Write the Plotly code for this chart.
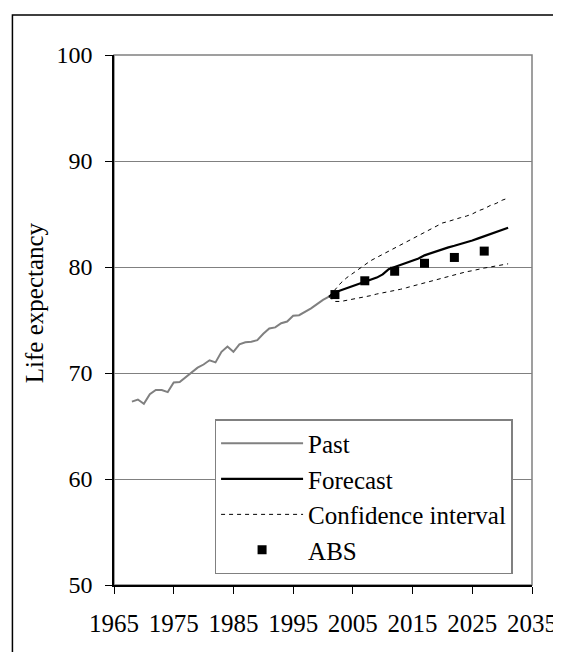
import plotly.graph_objects as go

# ---- data ----
past_years = list(range(1968, 2002))
past_values = [67.3, 67.5, 67.1, 68.0, 68.4, 68.4, 68.2, 69.1, 69.15, 69.6,
               70.0, 70.5, 70.8, 71.2, 71.0, 72.0, 72.5, 72.0, 72.7, 72.9,
               72.95, 73.1, 73.7, 74.2, 74.3, 74.7, 74.85, 75.4, 75.45, 75.75,
               76.1, 76.5, 76.9, 77.2]

fc_years = list(range(2001, 2032))
forecast = [77.2, 77.6, 77.8, 78.0, 78.2, 78.4, 78.6, 78.8, 79.0, 79.3,
            79.8, 80.0, 80.2, 80.4, 80.6, 80.8, 81.1, 81.3, 81.5, 81.7,
            81.85, 82.0, 82.15, 82.3, 82.5, 82.7, 82.9, 83.1, 83.3, 83.5, 83.7]
ci_upper = [77.2, 77.9, 78.5, 79.0, 79.4, 79.8, 80.2, 80.6, 80.9, 81.2,
            81.5, 81.8, 82.1, 82.4, 82.7, 83.0, 83.3, 83.6, 83.9, 84.15,
            84.3, 84.5, 84.65, 84.8, 85.0, 85.3, 85.5, 85.8, 86.0, 86.3, 86.5]
ci_lower = [77.2, 76.75, 76.75, 76.85, 76.95, 77.05, 77.15, 77.3, 77.45, 77.55,
            77.7, 77.8, 77.9, 78.05, 78.2, 78.35, 78.5, 78.7, 78.85, 79.0,
            79.15, 79.25, 79.4, 79.55, 79.65, 79.8, 79.9, 80.0, 80.1, 80.2, 80.3]

abs_years = [2002, 2007, 2012, 2017, 2022, 2027]
abs_values = [77.4, 78.7, 79.6, 80.35, 80.9, 81.5]

x_ticks = [1965, 1975, 1985, 1995, 2005, 2015, 2025, 2035]
y_ticks = [50, 60, 70, 80, 90, 100]

FONT = "Liberation Serif, Times New Roman, serif"

fig = go.Figure()
fig.add_trace(go.Scatter(x=past_years, y=past_values, mode="lines", name="Past",
                         line=dict(color="#808080", width=2)))
fig.add_trace(go.Scatter(x=fc_years, y=forecast, mode="lines", name="Forecast",
                         line=dict(color="black", width=2.2)))
fig.add_trace(go.Scatter(x=fc_years, y=ci_upper, mode="lines", name="Confidence interval",
                         legendgroup="ci", line=dict(color="black", width=1, dash="4px,4px")))
fig.add_trace(go.Scatter(x=fc_years, y=ci_lower, mode="lines", name="Confidence interval",
                         legendgroup="ci", showlegend=False,
                         line=dict(color="black", width=1, dash="4px,4px")))
fig.add_trace(go.Scatter(x=abs_years, y=abs_values, mode="markers", name="ABS",
                         marker=dict(symbol="square", size=9, color="black")))

fig.update_layout(
    width=561, height=652,
    margin=dict(l=106, r=31, t=47, b=75),
    paper_bgcolor="white", plot_bgcolor="white",
    font=dict(family=FONT, size=25, color="black"),
    showlegend=True,
    legend=dict(
        x=0.2406, y=0.313, xanchor="left", yanchor="top",
        bgcolor="white", bordercolor="#808080", borderwidth=1.5,
        font=dict(family=FONT, size=25, color="black"),
        itemwidth=82, tracegroupgap=0,
    ),
    xaxis=dict(
        range=[1965, 2035], tickvals=x_ticks, ticktext=[str(v) for v in x_ticks],
        showgrid=False, zeroline=False, showline=True, linecolor="black", linewidth=1.5,
        ticks="outside", ticklen=7, tickcolor="black", tickwidth=1,
        ticklabelstandoff=8, tickfont=dict(family=FONT, size=25, color="black"),
    ),
    yaxis=dict(
        range=[50, 100], tickvals=y_ticks,
        showgrid=True, gridcolor="#808080", gridwidth=1.2, zeroline=False,
        showline=True, linecolor="black", linewidth=1.5,
        ticks="outside", ticklen=7, tickcolor="black", tickwidth=1,
        ticklabelstandoff=8, tickfont=dict(family=FONT, size=24, color="black"),
    ),
    shapes=[
        # plot-area frame (grey top/right)
        dict(type="rect", xref="paper", yref="paper", x0=0, y0=0, x1=1, y1=1,
             line=dict(color="#808080", width=1.5), layer="below"),
        # outer chart border
        dict(type="rect", xref="paper", yref="paper", x0=-0.243, y0=-0.2, x1=1.2, y1=1.0755,
             line=dict(color="black", width=1.5)),
    ],
    annotations=[
        dict(text="Life expectancy", xref="paper", yref="paper", x=-0.191, y=0.532,
             textangle=-90, showarrow=False, font=dict(family=FONT, size=25, color="black"),
             xanchor="center", yanchor="middle"),
    ],
)

fig.write_html("out.html")
